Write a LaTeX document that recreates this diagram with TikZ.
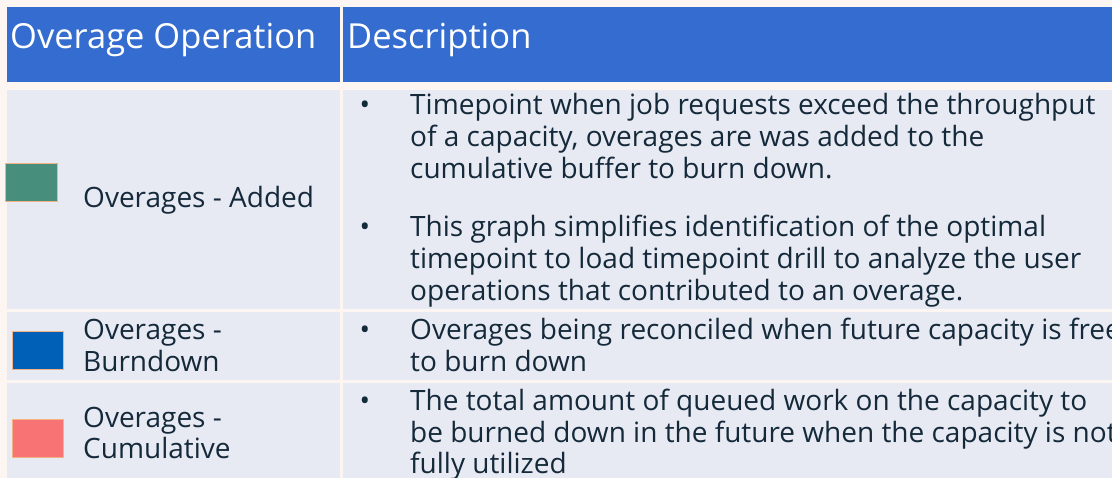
\documentclass[tikz,border=0pt]{standalone}
\usepackage{fontspec}
\setmainfont{Open Sans}
\usetikzlibrary{positioning}

\definecolor{pagebg}{HTML}{FDF5F2}
\definecolor{headblue}{HTML}{356CD0}
\definecolor{cellbg}{HTML}{E8EAF3}
\definecolor{inkdark}{HTML}{14293A}
\definecolor{addgreen}{HTML}{478E7D}
\definecolor{burnblue}{HTML}{0060B8}
\definecolor{cumred}{HTML}{F87474}
\definecolor{swatchrim}{HTML}{F4B183}

\begin{document}
\begin{tikzpicture}[x=1pt, y=-1pt,
  head/.style={fill=headblue},
  cell/.style={fill=cellbg},
  swatch/.style={draw=swatchrim, line width=0.8pt, fill=#1},
  headtxt/.style={text=white, font=\fontsize{34.5}{40}\selectfont,
                  anchor=base west, inner sep=0pt},
  % multi-line nodes sit on the baseline of their last line
  lbl/.style={text=inkdark, font=\fontsize{28}{32}\selectfont,
              anchor=base west, inner sep=0pt, align=left},
  desc/.style={lbl},
  dot/.style={text=inkdark, font=\fontsize{28}{32}\selectfont,
              anchor=base, inner sep=0pt},
]
\clip (0,0) rectangle (1112,478);
\fill[pagebg] (0,0) rectangle (1112,478);

% Table cells
\fill[head] (7,7)    rectangle (340,82);
\fill[head] (343,7)  rectangle (1112,82);
\fill[cell] (7,90)   rectangle (340,309);
\fill[cell] (343,90) rectangle (1112,309);
\fill[cell] (7,312)  rectangle (340,380);
\fill[cell] (343,312) rectangle (1112,380);
\fill[cell] (7,383)  rectangle (340,478);
\fill[cell] (343,383) rectangle (1112,478);

% Header
\node[headtxt] (hop)   at (10,49)  {Overage Operation};
\node[headtxt] (hdesc) at (347,49) {Description};

% Colour keys
\draw[swatch=addgreen] (5,163)  rectangle (57,201);
\draw[swatch=burnblue] (12,331) rectangle (63,369);
\draw[swatch=cumred]   (12,419) rectangle (63,457);

% Operation names
\node[lbl] (added)  at (83,208) {Overages - Added};
\node[lbl] (burn)   at (83,372) {Overages -\\Burndown};
\node[lbl] (cumul)  at (83,459) {Overages -\\Cumulative};

% Descriptions
\node[dot]  (b1) at (365,115) {•};
\node[desc] (d1) at (410,179) {Timepoint when job requests exceed the throughput\\
  of a capacity, overages are was added to the\\cumulative buffer to burn down.};
\node[dot]  (b2) at (365,237) {•};
\node[desc] (d2) at (410,301) {This graph simplifies identification of the optimal\\
  timepoint to load timepoint drill to analyze the user\\
  operations that contributed to an overage.};
\node[dot]  (b3) at (365,340) {•};
\node[desc] (d3) at (410,372) {Overages being reconciled when future capacity is free\\
  to burn down};
\node[dot]  (b4) at (365,410) {•};
\node[desc] (d4) at (410,474) {The total amount of queued work on the capacity to\\
  be burned down in the future when the capacity is not\\fully utilized};
\end{tikzpicture}
\end{document}
